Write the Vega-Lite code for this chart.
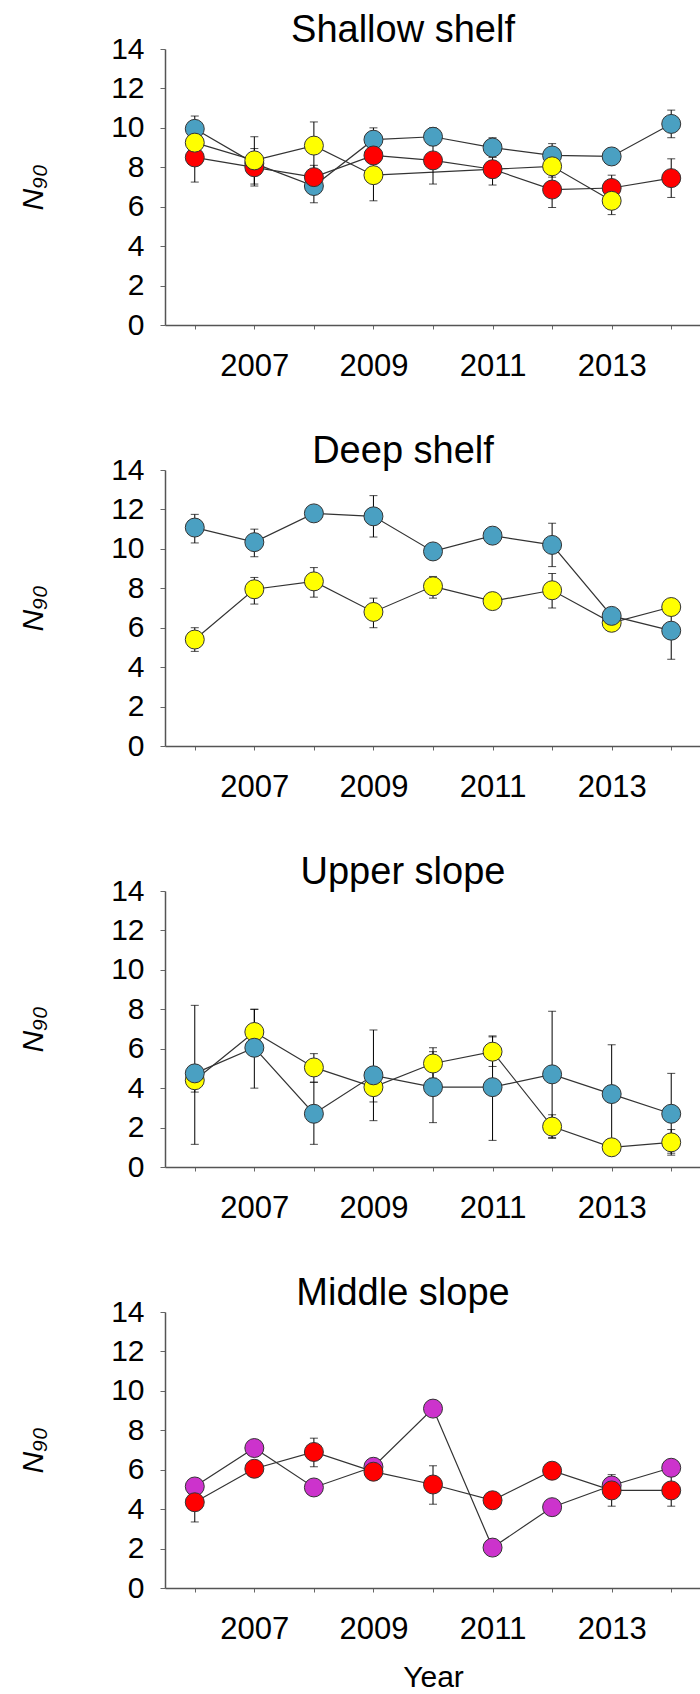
{
  "$schema": "https://vega.github.io/schema/vega-lite/v6.json",
  "padding": {"left": 18, "top": 12, "right": 0, "bottom": 5},
  "background": "white",
  "config": {
    "font": "Liberation Sans",
    "view": {"stroke": null},
    "title": {"fontSize": 38, "fontWeight": "normal", "color": "black", "font": "Liberation Sans", "offset": -16},
    "axis": {"grid": false, "domainColor": "#555", "domainWidth": 1.5, "tickColor": "#666", "labelColor": "black", "labelFont": "Liberation Sans", "titleFont": "Liberation Sans", "titleColor": "black", "titleFontWeight": "normal", "labelOverlap": false},
    "concat": {"spacing": 52}
  },
  "datasets": {
    "d": [
      {"panel": "Shallow shelf", "s": "S1", "year": 2006, "n": 9.95, "lo": 9.3, "hi": 10.6},
      {"panel": "Shallow shelf", "s": "S1", "year": 2007, "n": 8.2},
      {"panel": "Shallow shelf", "s": "S1", "year": 2008, "n": 7.05, "lo": 6.2, "hi": 7.9},
      {"panel": "Shallow shelf", "s": "S1", "year": 2009, "n": 9.4, "lo": 8.8, "hi": 10.0},
      {"panel": "Shallow shelf", "s": "S1", "year": 2010, "n": 9.55, "lo": 9.1, "hi": 10.0},
      {"panel": "Shallow shelf", "s": "S1", "year": 2011, "n": 9.0, "lo": 8.5, "hi": 9.5},
      {"panel": "Shallow shelf", "s": "S1", "year": 2012, "n": 8.6, "lo": 8.0, "hi": 9.2},
      {"panel": "Shallow shelf", "s": "S1", "year": 2013, "n": 8.55},
      {"panel": "Shallow shelf", "s": "S1", "year": 2014, "n": 10.2, "lo": 9.5, "hi": 10.9},
      {"panel": "Shallow shelf", "s": "S2", "year": 2006, "n": 8.5, "lo": 7.25, "hi": 9.75},
      {"panel": "Shallow shelf", "s": "S2", "year": 2007, "n": 8.0, "lo": 7.05, "hi": 8.95},
      {"panel": "Shallow shelf", "s": "S2", "year": 2008, "n": 7.5, "lo": 6.9, "hi": 8.1},
      {"panel": "Shallow shelf", "s": "S2", "year": 2009, "n": 8.6, "lo": 8.0, "hi": 9.2},
      {"panel": "Shallow shelf", "s": "S2", "year": 2010, "n": 8.35, "lo": 7.15, "hi": 9.55},
      {"panel": "Shallow shelf", "s": "S2", "year": 2011, "n": 7.9, "lo": 7.1, "hi": 8.7},
      {"panel": "Shallow shelf", "s": "S2", "year": 2012, "n": 6.87, "lo": 5.96, "hi": 7.78},
      {"panel": "Shallow shelf", "s": "S2", "year": 2013, "n": 6.95, "lo": 6.3, "hi": 7.6},
      {"panel": "Shallow shelf", "s": "S2", "year": 2014, "n": 7.45, "lo": 6.47, "hi": 8.43},
      {"panel": "Shallow shelf", "s": "S3", "year": 2006, "n": 9.25},
      {"panel": "Shallow shelf", "s": "S3", "year": 2007, "n": 8.35, "lo": 7.15, "hi": 9.55},
      {"panel": "Shallow shelf", "s": "S3", "year": 2008, "n": 9.1, "lo": 7.9, "hi": 10.3},
      {"panel": "Shallow shelf", "s": "S3", "year": 2009, "n": 7.6, "lo": 6.3, "hi": 8.9},
      {"panel": "Shallow shelf", "s": "S3", "year": 2012, "n": 8.05, "lo": 7.5, "hi": 8.6},
      {"panel": "Shallow shelf", "s": "S3", "year": 2013, "n": 6.3, "lo": 5.6, "hi": 7.0},

      {"panel": "Deep shelf", "s": "S1", "year": 2006, "n": 11.08, "lo": 10.3, "hi": 11.75},
      {"panel": "Deep shelf", "s": "S1", "year": 2007, "n": 10.34, "lo": 9.6, "hi": 11.0},
      {"panel": "Deep shelf", "s": "S1", "year": 2008, "n": 11.8, "lo": 11.5, "hi": 12.1},
      {"panel": "Deep shelf", "s": "S1", "year": 2009, "n": 11.65, "lo": 10.6, "hi": 12.7},
      {"panel": "Deep shelf", "s": "S1", "year": 2010, "n": 9.87},
      {"panel": "Deep shelf", "s": "S1", "year": 2011, "n": 10.67, "lo": 10.4, "hi": 10.95},
      {"panel": "Deep shelf", "s": "S1", "year": 2012, "n": 10.2, "lo": 9.1, "hi": 11.3},
      {"panel": "Deep shelf", "s": "S1", "year": 2013, "n": 6.6},
      {"panel": "Deep shelf", "s": "S1", "year": 2014, "n": 5.85, "lo": 4.4, "hi": 7.1},
      {"panel": "Deep shelf", "s": "S3", "year": 2006, "n": 5.4, "lo": 4.8, "hi": 6.0},
      {"panel": "Deep shelf", "s": "S3", "year": 2007, "n": 7.95, "lo": 7.2, "hi": 8.55},
      {"panel": "Deep shelf", "s": "S3", "year": 2008, "n": 8.35, "lo": 7.55, "hi": 9.05},
      {"panel": "Deep shelf", "s": "S3", "year": 2009, "n": 6.8, "lo": 6.0, "hi": 7.5},
      {"panel": "Deep shelf", "s": "S3", "year": 2010, "n": 8.1, "lo": 7.5, "hi": 8.6},
      {"panel": "Deep shelf", "s": "S3", "year": 2011, "n": 7.35},
      {"panel": "Deep shelf", "s": "S3", "year": 2012, "n": 7.9, "lo": 7.0, "hi": 8.75},
      {"panel": "Deep shelf", "s": "S3", "year": 2013, "n": 6.25},
      {"panel": "Deep shelf", "s": "S3", "year": 2014, "n": 7.05, "lo": 6.9, "hi": 7.2},

      {"panel": "Upper slope", "s": "S1", "year": 2006, "n": 4.75, "lo": 1.15, "hi": 8.2},
      {"panel": "Upper slope", "s": "S1", "year": 2007, "n": 6.05, "lo": 4.0, "hi": 8.0},
      {"panel": "Upper slope", "s": "S1", "year": 2008, "n": 2.7, "lo": 1.15, "hi": 4.3},
      {"panel": "Upper slope", "s": "S1", "year": 2009, "n": 4.65, "lo": 2.35, "hi": 6.95},
      {"panel": "Upper slope", "s": "S1", "year": 2010, "n": 4.05, "lo": 2.25, "hi": 5.85},
      {"panel": "Upper slope", "s": "S1", "year": 2011, "n": 4.05, "lo": 1.35, "hi": 6.65},
      {"panel": "Upper slope", "s": "S1", "year": 2012, "n": 4.7, "lo": 1.5, "hi": 7.9},
      {"panel": "Upper slope", "s": "S1", "year": 2013, "n": 3.7, "lo": 1.15, "hi": 6.2},
      {"panel": "Upper slope", "s": "S1", "year": 2014, "n": 2.7, "lo": 0.7, "hi": 4.75},
      {"panel": "Upper slope", "s": "S3", "year": 2006, "n": 4.4, "lo": 3.8, "hi": 5.0},
      {"panel": "Upper slope", "s": "S3", "year": 2007, "n": 6.85, "lo": 5.7, "hi": 8.0},
      {"panel": "Upper slope", "s": "S3", "year": 2008, "n": 5.05, "lo": 4.3, "hi": 5.75},
      {"panel": "Upper slope", "s": "S3", "year": 2009, "n": 4.05, "lo": 3.3, "hi": 4.8},
      {"panel": "Upper slope", "s": "S3", "year": 2010, "n": 5.25, "lo": 4.5, "hi": 6.05},
      {"panel": "Upper slope", "s": "S3", "year": 2011, "n": 5.85, "lo": 5.1, "hi": 6.6},
      {"panel": "Upper slope", "s": "S3", "year": 2012, "n": 2.05, "lo": 1.45, "hi": 2.65},
      {"panel": "Upper slope", "s": "S3", "year": 2013, "n": 1.0, "lo": 0.85, "hi": 1.15},
      {"panel": "Upper slope", "s": "S3", "year": 2014, "n": 1.25, "lo": 0.6, "hi": 1.9},

      {"panel": "Middle slope", "s": "S4", "year": 2006, "n": 5.15},
      {"panel": "Middle slope", "s": "S4", "year": 2007, "n": 7.1},
      {"panel": "Middle slope", "s": "S4", "year": 2008, "n": 5.1},
      {"panel": "Middle slope", "s": "S4", "year": 2009, "n": 6.15},
      {"panel": "Middle slope", "s": "S4", "year": 2010, "n": 9.1},
      {"panel": "Middle slope", "s": "S4", "year": 2011, "n": 2.05},
      {"panel": "Middle slope", "s": "S4", "year": 2012, "n": 4.1},
      {"panel": "Middle slope", "s": "S4", "year": 2013, "n": 5.2},
      {"panel": "Middle slope", "s": "S4", "year": 2014, "n": 6.1},
      {"panel": "Middle slope", "s": "S2", "year": 2006, "n": 4.35, "lo": 3.35, "hi": 5.35},
      {"panel": "Middle slope", "s": "S2", "year": 2007, "n": 6.05},
      {"panel": "Middle slope", "s": "S2", "year": 2008, "n": 6.9, "lo": 6.15, "hi": 7.6},
      {"panel": "Middle slope", "s": "S2", "year": 2009, "n": 5.9},
      {"panel": "Middle slope", "s": "S2", "year": 2010, "n": 5.25, "lo": 4.25, "hi": 6.2},
      {"panel": "Middle slope", "s": "S2", "year": 2011, "n": 4.45, "lo": 4.1, "hi": 4.8},
      {"panel": "Middle slope", "s": "S2", "year": 2012, "n": 5.95},
      {"panel": "Middle slope", "s": "S2", "year": 2013, "n": 4.95, "lo": 4.15, "hi": 5.75},
      {"panel": "Middle slope", "s": "S2", "year": 2014, "n": 4.95, "lo": 4.15, "hi": 5.75}
    ]
  },
  "vconcat": [
    {
      "width": 536, "height": 276,
      "data": {"name": "d"},
      "transform": [{"filter": {"field": "panel", "equal": "Shallow shelf"}}],
      "title": {"text": "Shallow shelf", "dx": -30},
      "encoding": {
        "x": {"field": "year", "type": "quantitative", "scale": {"domain": [2005.5, 2014.5], "nice": false, "zero": false},
              "axis": {"title": null, "values": [2006, 2007, 2008, 2009, 2010, 2011, 2012, 2013, 2014], "format": "d", "labelExpr": "datum.value % 2 == 1 ? datum.label : ''", "labelFontSize": 31, "tickSize": 4, "labelPadding": 22}}
      },
      "layer": [
        {"mark": {"type": "line", "color": "#333", "strokeWidth": 1.2},
         "encoding": {"y": {"field": "n", "type": "quantitative", "scale": {"domain": [0, 14], "nice": false}, "axis": {"title": "N₉₀", "values": [0, 2, 4, 6, 8, 10, 12, 14], "labelOverlap": false, "labelFontSize": 30, "tickSize": 5, "labelPadding": 16, "titleFontSize": 30, "titleFontStyle": "italic", "titlePadding": 62}}, "detail": {"field": "s"}}},
        {"transform": [{"filter": {"field": "lo", "valid": true}}],
         "mark": {"type": "errorbar", "color": "black", "thickness": 1, "ticks": {"size": 8, "thickness": 1, "color": "black"}},
         "encoding": {"y": {"field": "lo", "type": "quantitative", "axis": {"title": "N₉₀", "values": [0, 2, 4, 6, 8, 10, 12, 14], "labelOverlap": false, "labelFontSize": 30, "tickSize": 5, "labelPadding": 16, "titleFontSize": 30, "titleFontStyle": "italic", "titlePadding": 62}}, "y2": {"field": "hi"}}},
        {"mark": {"type": "circle", "size": 360, "opacity": 1, "stroke": "#333", "strokeWidth": 1},
         "encoding": {"y": {"field": "n", "type": "quantitative", "axis": {"title": "N₉₀", "values": [0, 2, 4, 6, 8, 10, 12, 14], "labelOverlap": false, "labelFontSize": 30, "tickSize": 5, "labelPadding": 16, "titleFontSize": 30, "titleFontStyle": "italic", "titlePadding": 62}},
                      "color": {"field": "s", "type": "nominal", "scale": {"domain": ["S1", "S2", "S3", "S4"], "range": ["#4aa0c2", "#ff0000", "#ffff00", "#cc33cc"]}, "legend": null},
                      "order": {"field": "s", "sort": "ascending"}}}
      ]
    },
    {
      "width": 536, "height": 276,
      "data": {"name": "d"},
      "transform": [{"filter": {"field": "panel", "equal": "Deep shelf"}}],
      "title": {"text": "Deep shelf", "dx": -30},
      "encoding": {
        "x": {"field": "year", "type": "quantitative", "scale": {"domain": [2005.5, 2014.5], "nice": false, "zero": false},
              "axis": {"title": null, "values": [2006, 2007, 2008, 2009, 2010, 2011, 2012, 2013, 2014], "format": "d", "labelExpr": "datum.value % 2 == 1 ? datum.label : ''", "labelFontSize": 31, "tickSize": 4, "labelPadding": 22}}
      },
      "layer": [
        {"mark": {"type": "line", "color": "#333", "strokeWidth": 1.2},
         "encoding": {"y": {"field": "n", "type": "quantitative", "scale": {"domain": [0, 14], "nice": false}, "axis": {"title": "N₉₀", "values": [0, 2, 4, 6, 8, 10, 12, 14], "labelOverlap": false, "labelFontSize": 30, "tickSize": 5, "labelPadding": 16, "titleFontSize": 30, "titleFontStyle": "italic", "titlePadding": 62}}, "detail": {"field": "s"}}},
        {"transform": [{"filter": {"field": "lo", "valid": true}}],
         "mark": {"type": "errorbar", "color": "black", "thickness": 1, "ticks": {"size": 8, "thickness": 1, "color": "black"}},
         "encoding": {"y": {"field": "lo", "type": "quantitative", "axis": {"title": "N₉₀", "values": [0, 2, 4, 6, 8, 10, 12, 14], "labelOverlap": false, "labelFontSize": 30, "tickSize": 5, "labelPadding": 16, "titleFontSize": 30, "titleFontStyle": "italic", "titlePadding": 62}}, "y2": {"field": "hi"}}},
        {"mark": {"type": "circle", "size": 360, "opacity": 1, "stroke": "#333", "strokeWidth": 1},
         "encoding": {"y": {"field": "n", "type": "quantitative", "axis": {"title": "N₉₀", "values": [0, 2, 4, 6, 8, 10, 12, 14], "labelOverlap": false, "labelFontSize": 30, "tickSize": 5, "labelPadding": 16, "titleFontSize": 30, "titleFontStyle": "italic", "titlePadding": 62}},
                      "color": {"field": "s", "type": "nominal", "scale": {"domain": ["S1", "S2", "S3", "S4"], "range": ["#4aa0c2", "#ff0000", "#ffff00", "#cc33cc"]}, "legend": null},
                      "order": {"field": "s", "sort": "descending"}}}
      ]
    },
    {
      "width": 536, "height": 276,
      "data": {"name": "d"},
      "transform": [{"filter": {"field": "panel", "equal": "Upper slope"}}],
      "title": {"text": "Upper slope", "dx": -30},
      "encoding": {
        "x": {"field": "year", "type": "quantitative", "scale": {"domain": [2005.5, 2014.5], "nice": false, "zero": false},
              "axis": {"title": null, "values": [2006, 2007, 2008, 2009, 2010, 2011, 2012, 2013, 2014], "format": "d", "labelExpr": "datum.value % 2 == 1 ? datum.label : ''", "labelFontSize": 31, "tickSize": 4, "labelPadding": 22}}
      },
      "layer": [
        {"mark": {"type": "line", "color": "#333", "strokeWidth": 1.2},
         "encoding": {"y": {"field": "n", "type": "quantitative", "scale": {"domain": [0, 14], "nice": false}, "axis": {"title": "N₉₀", "values": [0, 2, 4, 6, 8, 10, 12, 14], "labelOverlap": false, "labelFontSize": 30, "tickSize": 5, "labelPadding": 16, "titleFontSize": 30, "titleFontStyle": "italic", "titlePadding": 62}}, "detail": {"field": "s"}}},
        {"transform": [{"filter": {"field": "lo", "valid": true}}],
         "mark": {"type": "errorbar", "color": "black", "thickness": 1, "ticks": {"size": 8, "thickness": 1, "color": "black"}},
         "encoding": {"y": {"field": "lo", "type": "quantitative", "axis": {"title": "N₉₀", "values": [0, 2, 4, 6, 8, 10, 12, 14], "labelOverlap": false, "labelFontSize": 30, "tickSize": 5, "labelPadding": 16, "titleFontSize": 30, "titleFontStyle": "italic", "titlePadding": 62}}, "y2": {"field": "hi"}}},
        {"mark": {"type": "circle", "size": 360, "opacity": 1, "stroke": "#333", "strokeWidth": 1},
         "encoding": {"y": {"field": "n", "type": "quantitative", "axis": {"title": "N₉₀", "values": [0, 2, 4, 6, 8, 10, 12, 14], "labelOverlap": false, "labelFontSize": 30, "tickSize": 5, "labelPadding": 16, "titleFontSize": 30, "titleFontStyle": "italic", "titlePadding": 62}},
                      "color": {"field": "s", "type": "nominal", "scale": {"domain": ["S1", "S2", "S3", "S4"], "range": ["#4aa0c2", "#ff0000", "#ffff00", "#cc33cc"]}, "legend": null},
                      "order": {"field": "s", "sort": "descending"}}}
      ]
    },
    {
      "width": 536, "height": 276,
      "data": {"name": "d"},
      "transform": [{"filter": {"field": "panel", "equal": "Middle slope"}}],
      "title": {"text": "Middle slope", "dx": -30},
      "encoding": {
        "x": {"field": "year", "type": "quantitative", "scale": {"domain": [2005.5, 2014.5], "nice": false, "zero": false},
              "axis": {"title": "Year", "titleFontSize": 30, "titlePadding": 18, "values": [2006, 2007, 2008, 2009, 2010, 2011, 2012, 2013, 2014], "format": "d", "labelExpr": "datum.value % 2 == 1 ? datum.label : ''", "labelFontSize": 31, "tickSize": 4, "labelPadding": 22}}
      },
      "layer": [
        {"mark": {"type": "line", "color": "#333", "strokeWidth": 1.2},
         "encoding": {"y": {"field": "n", "type": "quantitative", "scale": {"domain": [0, 14], "nice": false}, "axis": {"title": "N₉₀", "values": [0, 2, 4, 6, 8, 10, 12, 14], "labelOverlap": false, "labelFontSize": 30, "tickSize": 5, "labelPadding": 16, "titleFontSize": 30, "titleFontStyle": "italic", "titlePadding": 62}}, "detail": {"field": "s"}}},
        {"transform": [{"filter": {"field": "lo", "valid": true}}],
         "mark": {"type": "errorbar", "color": "black", "thickness": 1, "ticks": {"size": 8, "thickness": 1, "color": "black"}},
         "encoding": {"y": {"field": "lo", "type": "quantitative", "axis": {"title": "N₉₀", "values": [0, 2, 4, 6, 8, 10, 12, 14], "labelOverlap": false, "labelFontSize": 30, "tickSize": 5, "labelPadding": 16, "titleFontSize": 30, "titleFontStyle": "italic", "titlePadding": 62}}, "y2": {"field": "hi"}}},
        {"mark": {"type": "circle", "size": 360, "opacity": 1, "stroke": "#333", "strokeWidth": 1},
         "encoding": {"y": {"field": "n", "type": "quantitative", "axis": {"title": "N₉₀", "values": [0, 2, 4, 6, 8, 10, 12, 14], "labelOverlap": false, "labelFontSize": 30, "tickSize": 5, "labelPadding": 16, "titleFontSize": 30, "titleFontStyle": "italic", "titlePadding": 62}},
                      "color": {"field": "s", "type": "nominal", "scale": {"domain": ["S1", "S2", "S3", "S4"], "range": ["#4aa0c2", "#ff0000", "#ffff00", "#cc33cc"]}, "legend": null},
                      "order": {"field": "s", "sort": "descending"}}}
      ]
    }
  ]
}
